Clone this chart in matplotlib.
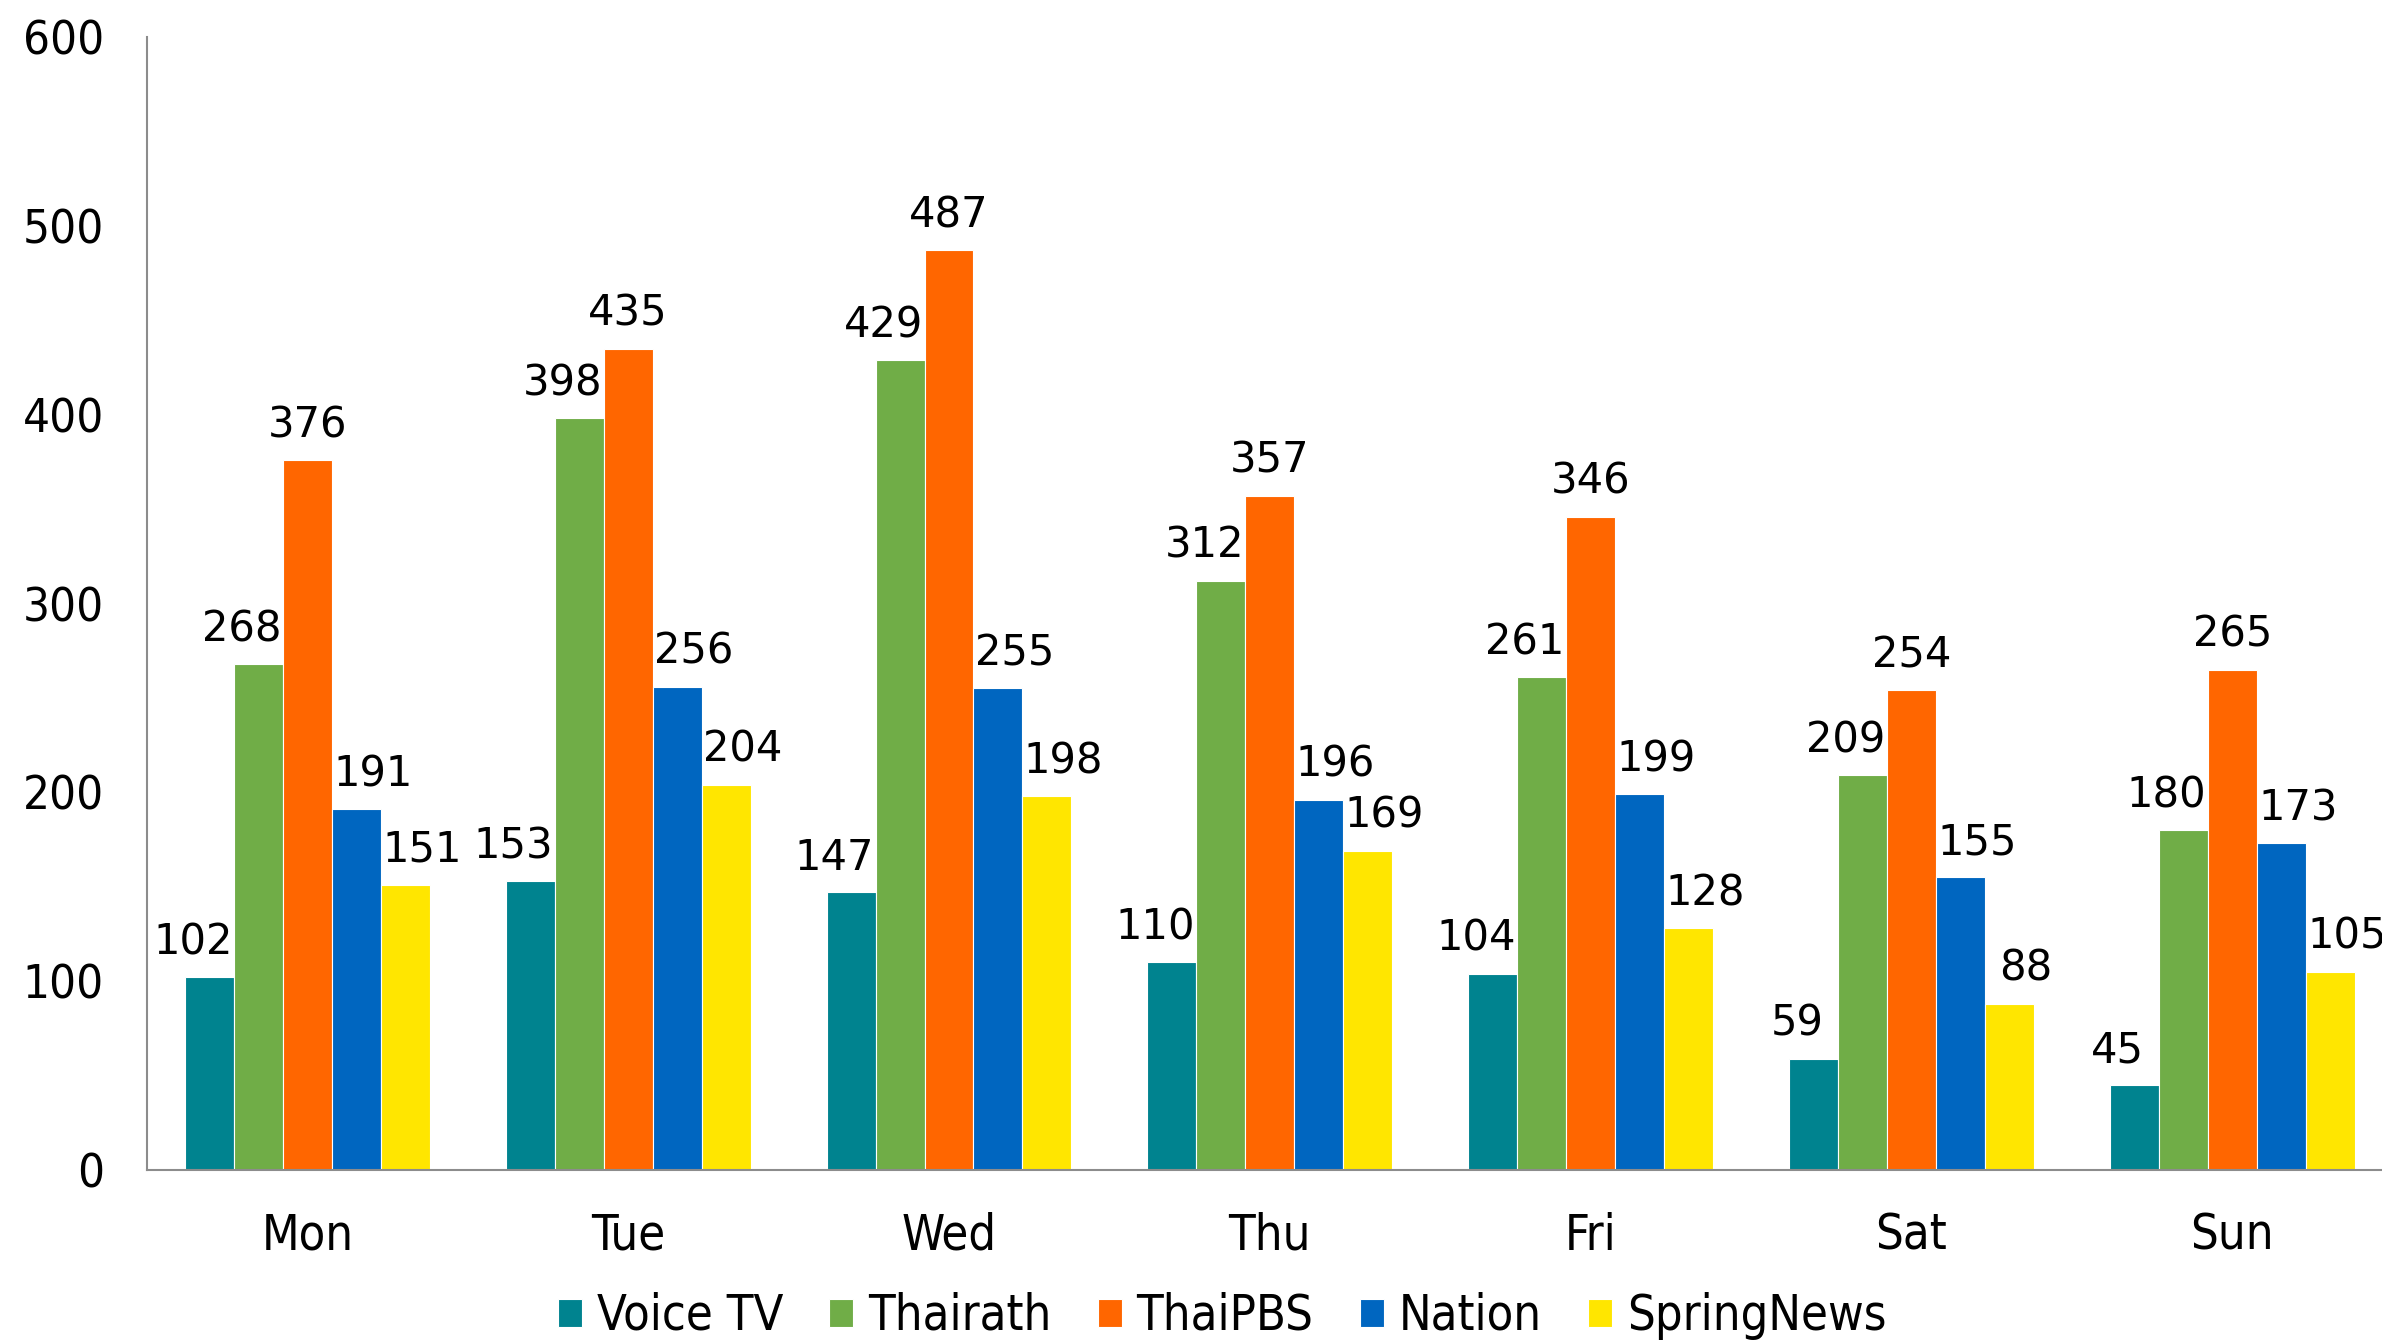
import numpy as np
import matplotlib
matplotlib.use("Agg")
import matplotlib.pyplot as plt

days = ["Mon", "Tue", "Wed", "Thu", "Fri", "Sat", "Sun"]
channels = ["Voice TV", "Thairath", "ThaiPBS", "Nation", "SpringNews"]
voice_tv = [102, 153, 147, 110, 104, 59, 45]
thairath = [268, 398, 429, 312, 261, 209, 180]
thaipbs = [376, 435, 487, 357, 346, 254, 265]
nation = [191, 256, 255, 196, 199, 155, 173]
springnews = [151, 204, 198, 169, 128, 88, 105]
colors = ["#00838F", "#70AD47", "#FF6600", "#0066C0", "#FFE600"]

series = [voice_tv, thairath, thaipbs, nation, springnews]
# sideways nudge of the value labels per series (points), like Excel did it
label_dx = [-12, -12, 0, 12, 12]

W, H = 2382, 1340
fig = plt.figure(figsize=(W / 100, H / 100), dpi=100)
# axis spans a bit past the right edge, like the original
left, bottom, top = 147, 1170, 37
width_px = 7 * 320.8
ax = fig.add_axes([left / W, (H - bottom) / H, width_px / W, (bottom - top) / H])

x = np.arange(len(days))
bw = 0.1527
for i, (vals, name, c) in enumerate(zip(series, channels, colors)):
    pos = x + (i - 2) * bw
    bars = ax.bar(pos, vals, bw, color=c, edgecolor="white", linewidth=0.8, label=name)
    for b, v in zip(bars, vals):
        ax.annotate(str(v), (b.get_x() + b.get_width() / 2, v), xytext=(label_dx[i], 10),
                    textcoords="offset points", ha="center", va="bottom",
                    fontsize=30, color="black", annotation_clip=False)

ax.set_xlim(-0.5, 6.5)
ax.set_ylim(0, 600)
ax.set_yticks(range(0, 601, 100))
ax.set_xticks(x)
ax.set_xticklabels(days)
for s in ["top", "right"]:
    ax.spines[s].set_visible(False)
for s in ["left", "bottom"]:
    ax.spines[s].set_color("#8c8c8c")
    ax.spines[s].set_linewidth(1.5)
ax.tick_params(axis="y", length=0, pad=31, labelsize=34)
ax.tick_params(axis="x", length=0, pad=30, labelsize=35)
for lab in ax.get_xticklabels() + ax.get_yticklabels():
    lab.set_fontstretch("condensed")

leg = fig.legend(loc="center", bbox_to_anchor=(1222 / W, 1 - 1316 / H), ncol=5, frameon=False,
                 prop={"size": 35, "stretch": "condensed"}, handlelength=0.5, handleheight=0.5,
                 handletextpad=0.3, columnspacing=0.95, borderaxespad=0)

fig.savefig("out.png", dpi=100)
